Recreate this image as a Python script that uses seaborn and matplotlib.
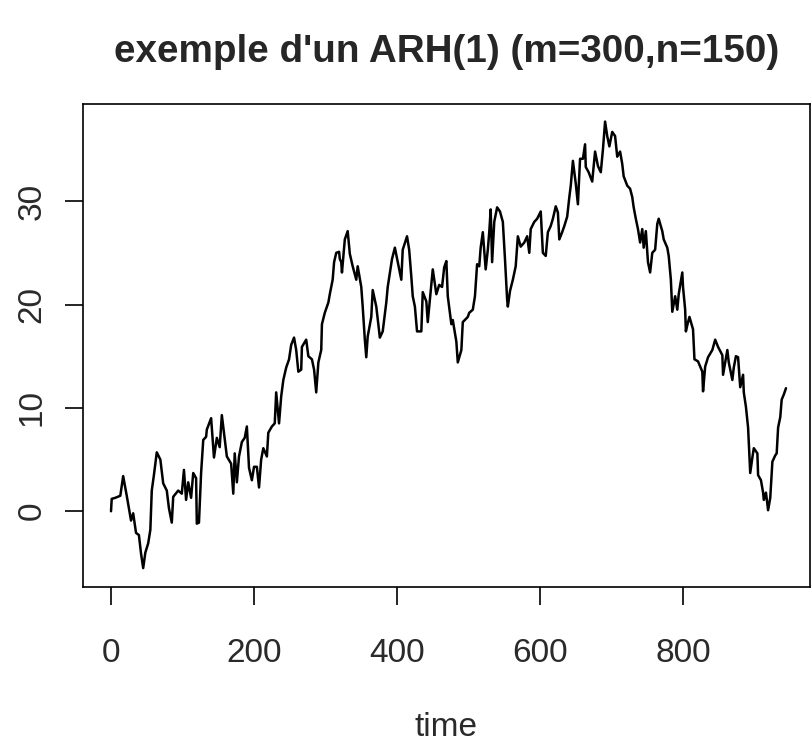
import matplotlib
matplotlib.use("Agg")
import matplotlib.pyplot as plt
import seaborn as sns
import pandas as pd

# ---- data (time, value) ----
time = [0, 1, 6, 13, 17, 22, 28, 31, 35, 39, 42, 45, 48, 52, 55, 57, 60, 64, 69, 73,
        78, 81, 85, 87, 94, 99, 102, 105, 108, 112, 115, 119, 120, 123, 126, 129, 133, 134, 140, 144,
        148, 152, 155, 158, 162, 168, 171, 173, 176, 179, 183, 187, 190, 193, 197, 200, 204, 207, 210, 213,
        218, 220, 225, 229, 231, 235, 238, 241, 245, 249, 252, 256, 259, 262, 266, 267, 273, 276, 281, 284,
        287, 290, 294, 295, 299, 304, 306, 310, 312, 315, 319, 320, 322, 323, 327, 331, 334, 338, 343, 345,
        350, 352, 355, 357, 359, 364, 366, 371, 372, 376, 380, 385, 387, 393, 397, 401, 406, 408, 414, 417,
        420, 422, 425, 428, 434, 436, 441, 443, 448, 450, 455, 459, 463, 466, 469, 471, 476, 478, 483, 485,
        490, 492, 499, 501, 506, 509, 512, 515, 517, 520, 524, 527, 529, 531, 533, 536, 540, 544, 548, 551,
        554, 555, 558, 562, 566, 569, 573, 578, 582, 585, 587, 592, 596, 601, 604, 608, 611, 615, 618, 622,
        625, 627, 631, 634, 638, 641, 643, 646, 650, 653, 656, 660, 663, 664, 668, 673, 677, 681, 685, 688,
        691, 694, 697, 701, 705, 708, 712, 715, 717, 722, 726, 729, 731, 734, 737, 740, 743, 745, 748, 751,
        754, 757, 761, 764, 766, 771, 773, 778, 780, 783, 785, 789, 792, 794, 799, 800, 803, 804, 807, 809,
        814, 816, 821, 827, 828, 831, 835, 841, 845, 849, 855, 856, 862, 864, 869, 871, 874, 877, 880, 884,
        885, 888, 891, 894, 897, 899, 904, 905, 909, 912, 913, 916, 919, 922, 925, 929, 931, 933, 936, 938,
        941, 944]
value = [0.0, 1.2, 1.3, 1.5, 3.4, 1.5, -0.9, -0.2, -2.1, -2.3, -4.1, -5.5, -4.0, -3.1, -1.8, 2.0, 3.5, 5.7, 5.0, 2.7,
         2.0, 0.3, -1.1, 1.4, 2.0, 1.7, 4.0, 1.1, 2.8, 1.3, 3.7, 3.2, -1.2, -1.1, 3.7, 6.9, 7.2, 7.9, 9.0, 5.2,
         7.1, 6.2, 9.3, 7.6, 5.3, 4.6, 1.7, 5.6, 2.8, 5.3, 6.7, 7.1, 8.2, 4.2, 3.0, 4.3, 4.3, 2.3, 5.0, 6.1,
         5.3, 7.6, 8.2, 8.5, 11.5, 8.5, 11.1, 12.7, 13.9, 14.7, 16.1, 16.8, 15.6, 13.5, 13.7, 15.9, 16.6, 15.0, 14.7, 13.7,
         11.5, 14.4, 15.6, 18.1, 19.2, 20.2, 21.0, 22.4, 24.1, 25.0, 25.1, 24.4, 24.1, 23.1, 26.3, 27.1, 24.9, 23.7, 22.4, 23.7,
         21.7, 19.8, 16.6, 14.9, 16.9, 18.8, 21.4, 19.8, 19.2, 16.8, 17.4, 20.2, 21.7, 24.4, 25.5, 24.1, 22.4, 25.3, 26.6, 25.3,
         22.7, 20.8, 19.8, 17.4, 17.4, 21.2, 20.3, 18.3, 21.9, 23.4, 21.0, 21.9, 21.7, 23.6, 24.2, 20.8, 18.1, 18.5, 16.4, 14.4,
         15.6, 18.3, 18.8, 19.2, 19.5, 20.8, 23.9, 23.7, 25.5, 27.0, 23.4, 25.3, 27.0, 29.2, 24.1, 28.0, 29.4, 29.0, 28.0, 24.4,
         20.5, 19.8, 21.3, 22.4, 23.7, 26.6, 25.6, 26.0, 26.6, 25.0, 27.3, 28.0, 28.3, 29.0, 25.0, 24.7, 27.0, 27.6, 28.3, 29.5,
         28.9, 26.3, 27.0, 27.6, 28.5, 30.4, 31.5, 33.9, 31.7, 29.7, 34.1, 34.1, 35.5, 33.3, 32.8, 31.9, 34.8, 33.4, 32.8, 35.0,
         37.7, 36.3, 35.3, 36.7, 36.3, 34.3, 34.8, 33.6, 32.4, 31.5, 31.2, 30.4, 29.4, 28.3, 27.3, 26.0, 27.3, 25.5, 27.1, 24.1,
         23.1, 25.0, 25.3, 27.8, 28.3, 27.1, 26.3, 25.5, 24.7, 22.4, 19.3, 20.8, 19.5, 21.0, 23.1, 21.7, 19.5, 17.4, 18.3, 18.8,
         17.6, 14.7, 14.5, 13.5, 11.6, 14.0, 14.9, 15.6, 16.6, 15.9, 15.1, 13.2, 15.6, 14.4, 12.7, 13.9, 15.0, 14.9, 12.0, 13.2,
         11.5, 10.1, 8.1, 3.7, 5.2, 6.1, 5.6, 3.5, 3.0, 1.8, 1.1, 1.8, 0.1, 1.3, 4.8, 5.4, 5.6, 8.1, 9.1, 10.8,
         11.3, 11.9]

x_ticks = [0, 200, 400, 600, 800]
y_ticks = [0, 10, 20, 30]
title = "exemple d'un ARH(1) (m=300,n=150)"
x_label = "time"

df = pd.DataFrame({"time": time, "value": value})

sns.set_style("white")
plt.rcParams["font.family"] = ["Liberation Sans", "DejaVu Sans"]

W, H = 811, 745
fig = plt.figure(figsize=(W / 100, H / 100), dpi=100)
L, R, T, B = 82.7, 810.0, 104.0, 586.7
ax = fig.add_axes([L / W, 1 - B / H, (R - L) / W, (B - T) / H])

sns.lineplot(data=df, x="time", y="value", ax=ax, color="black", linewidth=1.8,
             estimator=None, sort=False)

ax.set_xlim(-39.6, 977.6)
ax.set_ylim(-7.3, 39.4)
ax.set_xticks(x_ticks)
ax.set_yticks(y_ticks)
ax.set_xticklabels([str(v) for v in x_ticks])
ax.set_yticklabels([str(v) for v in y_ticks], rotation=90, va="center")

for s in ax.spines.values():
    s.set_visible(True)
    s.set_color("black")
    s.set_linewidth(1.2)

ax.tick_params(axis="both", direction="out", length=13, width=1.2, color="black",
               labelsize=24, labelcolor="#2a2a2a", bottom=True, left=True)
ax.tick_params(axis="x", pad=24)
ax.tick_params(axis="y", pad=12.5)

ax.set_xlabel(x_label, fontsize=24, color="#2a2a2a", labelpad=31)
ax.set_ylabel("")
ax.set_title(title, fontsize=27.8, fontweight="bold", pad=30)

fig.savefig("out.png", dpi=100)
